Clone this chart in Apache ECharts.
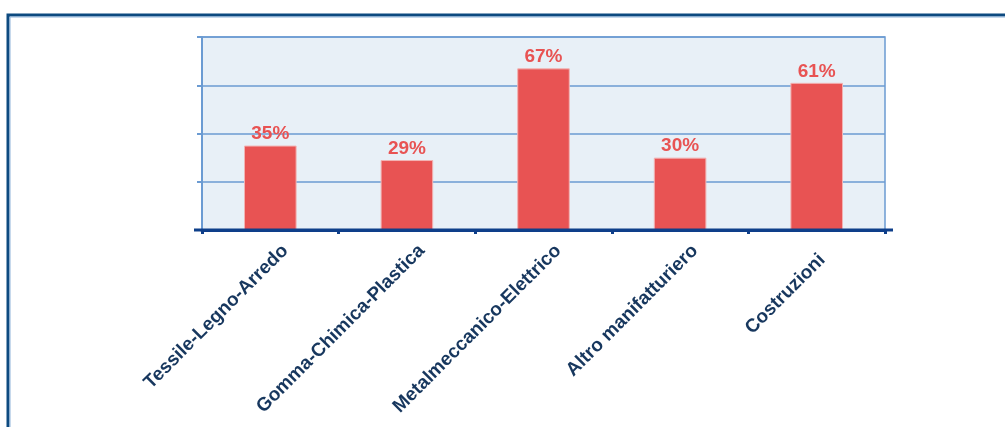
<!DOCTYPE html>
<html>
<head>
<meta charset="utf-8">
<script src="https://cdn.jsdelivr.net/npm/echarts@6/dist/echarts.min.js"></script>
<style>
  html, body { margin: 0; padding: 0; background: #ffffff; }
  #chart { width: 1005px; height: 427px; }
</style>
</head>
<body>
<div id="chart"></div>
<script>
// Sectors shown along the category axis
const categories = [
  'Tessile-Legno-Arredo',
  'Gomma-Chimica-Plastica',
  'Metalmeccanico-Elettrico',
  'Altro manifatturiero',
  'Costruzioni'
];
// Share per sector, in percent
const values = [35, 29, 67, 30, 61];
// Value axis range (no tick labels are drawn)
const yMin = 0;
const yMax = 80;
const yStep = 20;

const FONT = '"Liberation Sans", Arial, sans-serif';
const AXIS_NAVY = '#0e3f8a';
const NAME_STYLE = {
  fontFamily: FONT,
  fontWeight: 'bold',
  fontSize: 19,
  color: '#17375e',
  lineHeight: 42
};
const chart = echarts.init(document.getElementById('chart'), null, { renderer: 'canvas' });

const frame = [
  {
    type: 'rect',
    shape: { x: 8, y: 15, width: 1010, height: 440 },
    style: { fill: 'none', stroke: '#0d4a80', lineWidth: 3 },
    z: 10
  },
  {
    type: 'rect',
    shape: { x: 10, y: 17, width: 1010, height: 440 },
    style: { fill: 'none', stroke: '#8fb4da', lineWidth: 1 },
    z: 10
  }
];

chart.setOption({
  animation: false,
  backgroundColor: '#ffffff',
  graphic: frame,
  grid: {
    left: 202,
    right: 120,
    top: 37,
    bottom: 197,
    show: true,
    backgroundColor: '#e8f0f7',
    borderColor: '#6b9bd2',
    borderWidth: 1.5
  },
  xAxis: {
    type: 'category',
    data: categories,
    axisLine: { show: true, lineStyle: { color: AXIS_NAVY, width: 3 } },
    axisTick: { show: true, alignWithLabel: false, length: 4, lineStyle: { color: AXIS_NAVY, width: 3 } },
    axisLabel: {
      interval: 0,
      rotate: 45,
      margin: 3,
      // a tall line box hung from the anchor pushes the slanted names right of each slot centre
      verticalAlign: 'top',
      lineHeight: 42,
      fontFamily: FONT,
      fontWeight: 'bold',
      fontSize: 19,
      color: '#17375e',
      // the short last name sits a little further from its tick
      formatter: (name, idx) => idx === categories.length - 1 ? `{short|${name}}` : `{name|${name}}`,
      rich: {
        name: NAME_STYLE,
        short: Object.assign({}, NAME_STYLE, { padding: [0, 13, 0, 0] })
      }
    }
  },
  yAxis: {
    type: 'value',
    min: yMin,
    max: yMax,
    interval: yStep,
    axisLine: { show: true, lineStyle: { color: '#6b9bd2', width: 2 } },
    axisTick: { show: true, length: 5, lineStyle: { color: '#6b9bd2', width: 2 } },
    axisLabel: { show: false },
    splitLine: { show: true, lineStyle: { color: '#6b9bd2', width: 1.5 } }
  },
  series: [{
    type: 'bar',
    data: values,
    barWidth: '38.5%',
    itemStyle: { color: '#e85353', borderColor: '#f2b3b3', borderWidth: 1 },
    label: {
      show: true,
      position: 'top',
      distance: 2,
      formatter: '{c}%',
      fontFamily: FONT,
      fontWeight: 'bold',
      fontSize: 19,
      color: '#e85353'
    }
  }]
});

// Let the base line run a few pixels past both ends of the plot
const rect = chart.getModel().getComponent('grid').coordinateSystem.getRect();
const baseY = chart.convertToPixel({ yAxisIndex: 0 }, yMin);
chart.setOption({
  graphic: frame.concat([{
    type: 'line',
    shape: { x1: rect.x - 8, y1: baseY, x2: rect.x + rect.width + 8, y2: baseY },
    style: { stroke: AXIS_NAVY, lineWidth: 3 },
    z: 5
  }])
});
</script>
</body>
</html>
